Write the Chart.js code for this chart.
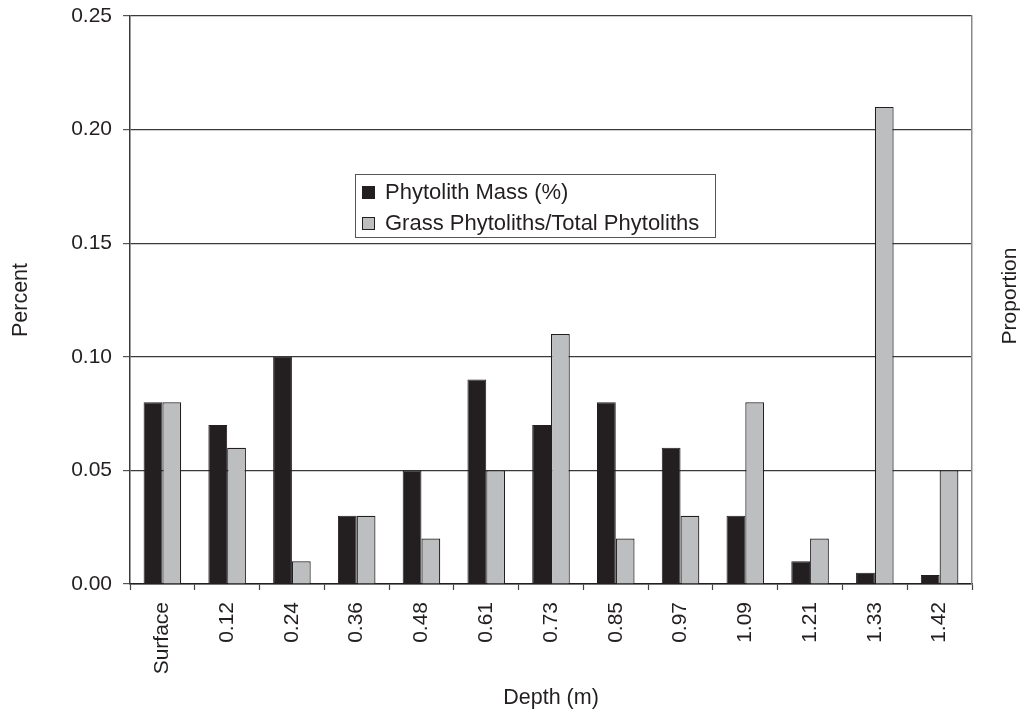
<!DOCTYPE html>
<html lang="en">
<head>
  <meta charset="UTF-8">
  <title>Phytoliths by Depth</title>
  <script src="https://cdn.jsdelivr.net/npm/chart.js"></script>
  <style>
    body { margin: 0; background: #fff; }
    #wrap { width: 1034px; height: 713px; }
  </style>
</head>
<body>
  <div id="wrap"><canvas id="phytoChart"></canvas></div>

  <script>
    const depths = ['Surface', '0.12', '0.24', '0.36', '0.48', '0.61', '0.73', '0.85', '0.97', '1.09', '1.21', '1.33', '1.42'];
    const phytolithMass = [0.08, 0.07, 0.10, 0.03, 0.05, 0.09, 0.07, 0.08, 0.06, 0.03, 0.01, 0.005, 0.004];
    const grassRatio = [0.08, 0.06, 0.01, 0.03, 0.02, 0.05, 0.11, 0.02, 0.03, 0.08, 0.02, 0.21, 0.05];
    const yTicks = [0, 0.05, 0.10, 0.15, 0.20, 0.25];

    const ink = '#231f20';
    const fontFamily = 'Arial, "Liberation Sans", Helvetica, sans-serif';

    // legend box inside the plot + right hand axis title (reads bottom to top)
    const extras = {
      id: 'extras',
      afterDraw(chart) {
        const ctx = chart.ctx;
        const area = chart.chartArea;
        ctx.save();

        const bx = area.left + 225, by = area.top + 158, bw = 360, bh = 63;
        ctx.strokeStyle = '#555';
        ctx.lineWidth = 1;
        ctx.strokeRect(bx + 0.5, by + 0.5, bw, bh);

        ctx.font = '22px ' + fontFamily;
        ctx.textBaseline = 'middle';
        ctx.textAlign = 'left';
        chart.data.datasets.forEach((ds, i) => {
          const cy = by + 18 + i * 31;
          ctx.fillStyle = ds.backgroundColor;
          ctx.fillRect(bx + 7, cy - 6, 13, 13);
          ctx.strokeStyle = ink;
          ctx.strokeRect(bx + 7.5, cy - 5.5, 12, 12);
          ctx.fillStyle = ink;
          ctx.fillText(ds.label, bx + 30, cy + 1);
        });

        ctx.translate(1010, (area.top + area.bottom) / 2 - 4);
        ctx.rotate(-Math.PI / 2);
        ctx.textAlign = 'center';
        ctx.font = '21px ' + fontFamily;
        ctx.fillText('Proportion', 0, 0);
        ctx.restore();
      }
    };

    const ctx = document.getElementById('phytoChart').getContext('2d');
    new Chart(ctx, {
      type: 'bar',
      data: {
        labels: depths,
        datasets: [
          {
            label: 'Phytolith Mass (%)',
            data: phytolithMass,
            backgroundColor: ink,
            borderColor: ink,
            borderWidth: 1,
            barPercentage: 1,
            categoryPercentage: 0.58
          },
          {
            label: 'Grass Phytoliths/Total Phytoliths',
            data: grassRatio,
            backgroundColor: '#bcbec0',
            borderColor: ink,
            borderWidth: 1.2,
            barPercentage: 1,
            categoryPercentage: 0.58
          }
        ]
      },
      plugins: [extras],
      options: {
        responsive: true,
        maintainAspectRatio: false,
        animation: false,
        layout: { padding: { top: 16, left: 0, right: 0, bottom: 0 } },
        plugins: {
          legend: { display: false },
          tooltip: { enabled: false }
        },
        scales: {
          x: {
            grid: {
              offset: true,
              drawOnChartArea: false,
              tickLength: 6,
              tickColor: '#444',
              tickWidth: 1.2
            },
            border: { color: ink, width: 1.5 },
            ticks: {
              color: ink,
              font: { family: fontFamily, size: 21 },
              minRotation: 90,
              maxRotation: 90,
              padding: 12
            },
            title: {
              display: true,
              text: 'Depth (m)',
              color: ink,
              font: { family: fontFamily, size: 21.5 },
              padding: { top: 0, bottom: 2 }
            },
            afterFit(scale) { scale.height = 129; }
          },
          y: {
            min: 0,
            max: 0.25,
            afterBuildTicks(scale) { scale.ticks = yTicks.map(v => ({ value: v })); },
            grid: {
              color: '#3a3a3a',
              lineWidth: 1.2,
              tickLength: 7,
              tickColor: '#555'
            },
            border: { color: '#3a3a3a', width: 1.5 },
            ticks: {
              color: ink,
              font: { family: fontFamily, size: 21 },
              padding: 11,
              callback: v => v.toFixed(2)
            },
            title: {
              display: true,
              text: 'Percent',
              color: ink,
              font: { family: fontFamily, size: 21.5 },
              padding: { top: 8, bottom: 0 }
            },
            afterFit(scale) {
              scale.width = 130;
              scale.paddingTop = 0;
              scale.paddingBottom = 0;
            }
          },
          y2: {
            position: 'right',
            min: 0,
            max: 0.25,
            grid: { display: false, drawTicks: false },
            border: { color: '#888', width: 1.5 },
            ticks: { display: false },
            afterFit(scale) {
              scale.width = 62;
              scale.paddingTop = 0;
              scale.paddingBottom = 0;
            }
          }
        }
      }
    });
  </script>
</body>
</html>
